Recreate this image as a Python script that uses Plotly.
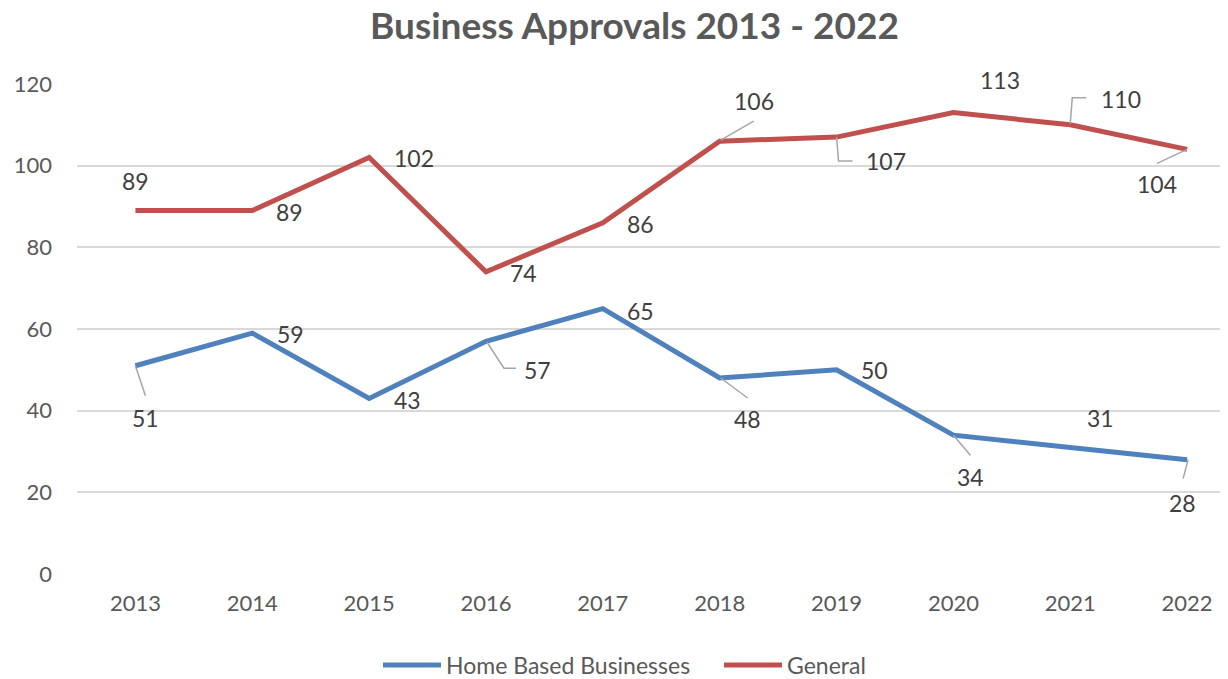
import plotly.graph_objects as go

years = [2013, 2014, 2015, 2016, 2017, 2018, 2019, 2020, 2021, 2022]
home_based = [51, 59, 43, 57, 65, 48, 50, 34, 31, 28]
general = [89, 89, 102, 74, 86, 106, 107, 113, 110, 104]
y_ticks = [0, 20, 40, 60, 80, 100, 120]

BLUE = "#4F81BD"
RED = "#C0504D"
FONT = "Lato"

# label offsets in screen pixels (dx, dy with dy downward) and leader paths
home_label_off = [(10, 52), (38, 1), (38, 2), (52, 29), (38, 2), (28, 41), (38, 0), (17, 42), (30, -29), (-5, 43)]
home_leaders = {0: [(0, 0), (10, 30)], 3: [(1, 1), (18, 27), (30, 27)], 5: [(1, 0), (28, 20)],
                7: [(0, 0), (17, 20)], 9: [(1, 0), (-4, 19)]}
gen_label_off = [(0, -30), (37, 1), (45, 0), (38, 1), (38, 1), (34, -40), (49, 24), (47, -33), (51, -26), (-30, 35)]
gen_leaders = {5: [(1, -1), (34, -20)], 6: [(0, 0), (2, 24), (16, 24)], 8: [(0, -1), (2, -27), (16, -27)],
               9: [(0, 0), (-30, 14)]}

fig = go.Figure()
fig.add_trace(go.Scatter(x=years, y=home_based, mode="lines", name="Home Based Businesses",
                         line=dict(color=BLUE, width=5)))
fig.add_trace(go.Scatter(x=years, y=general, mode="lines", name="General",
                         line=dict(color=RED, width=5)))

annotations = [dict(text="<b>Business Approvals 2013 - 2022</b>", xref="paper", yref="paper",
                    x=(626 - 69) / 1151, y=1 + (76 - 16) / 490, xanchor="center", yanchor="middle",
                    showarrow=False, font=dict(family=FONT, size=37, color="#595959"))]
shapes = []
for vals, offs, leaders in [(home_based, home_label_off, home_leaders), (general, gen_label_off, gen_leaders)]:
    for i, (yr, v) in enumerate(zip(years, vals)):
        dx, dy = offs[i]
        annotations.append(dict(x=yr, y=v, text=str(v), showarrow=False, xshift=dx, yshift=-dy,
                                font=dict(family=FONT, size=23, color="#404040")))
        if i in leaders:
            pts = leaders[i]
            path = "M " + " L ".join(f"{px},{-py}" for px, py in pts)
            shapes.append(dict(type="path", xref="x", yref="y", xsizemode="pixel", ysizemode="pixel",
                               xanchor=yr, yanchor=v, path=path,
                               line=dict(color="#A6A6A6", width=1.5), layer="above"))

fig.update_layout(
    width=1220, height=671,
    margin=dict(l=69, r=0, t=76, b=105, autoexpand=False),
    paper_bgcolor="white", plot_bgcolor="white",
    font=dict(family=FONT, size=23, color="#595959"),
    xaxis=dict(range=[2012.5, 2022.35], tickmode="array", tickvals=years, ticktext=[str(y) for y in years],
               showgrid=False, zeroline=False, showline=False, ticks="", ticklabelstandoff=14,
               tickangle=0, tickfont=dict(family=FONT, size=22, color="#595959")),
    yaxis=dict(range=[0, 120], tickmode="array", tickvals=y_ticks, showgrid=True, gridcolor="#D9D9D9",
               gridwidth=1.5, zeroline=False, showline=False, ticks="", ticklabelstandoff=24,
               tickfont=dict(family=FONT, size=22, color="#595959")),
    showlegend=True,
    legend=dict(orientation="h", x=(380 - 69 - 10) / 1151, xref="paper", xanchor="left",
                y=-0.186, yanchor="middle",
                font=dict(family=FONT, size=23, color="#595959"), itemwidth=58,
                entrywidth=268, entrywidthmode="pixels", traceorder="normal"),
    annotations=annotations,
    shapes=shapes,
)

fig.write_html("out.html")
